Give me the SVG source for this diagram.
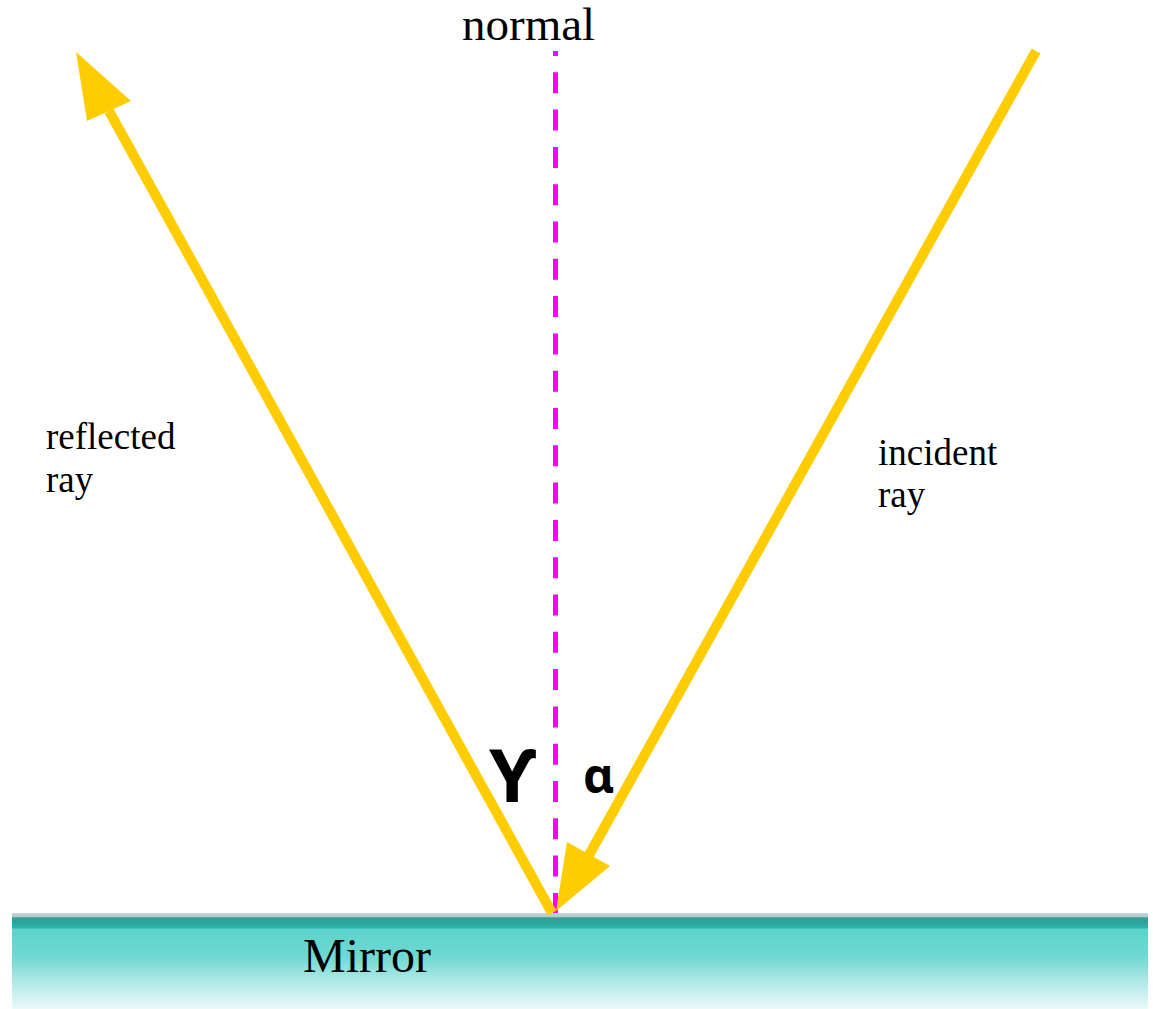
<svg xmlns="http://www.w3.org/2000/svg" width="1153" height="1009" viewBox="0 0 1153 1009">
  <defs>
    <linearGradient id="mirrorGrad" x1="0" y1="0" x2="0" y2="1">
      <stop offset="0" stop-color="#c4d4d4"/>
      <stop offset="0.04" stop-color="#b0cccb"/>
      <stop offset="0.05" stop-color="#3a9c96"/>
      <stop offset="0.10" stop-color="#2aa59e"/>
      <stop offset="0.15" stop-color="#2db3ab"/>
      <stop offset="0.17" stop-color="#5cd3cc"/>
      <stop offset="0.45" stop-color="#6fd8d2"/>
      <stop offset="0.67" stop-color="#a4e6e2"/>
      <stop offset="1" stop-color="#ecf9f9"/>
    </linearGradient>
  </defs>
  <style>
    .ray { stroke: #ffcc00; stroke-width: 10; fill: none; }
    .head { fill: #ffcc00; stroke: none; }
    .normal { stroke: #ff00ff; stroke-width: 5; stroke-dasharray: 21 16.3; fill: none; }
    .serif { font-family: "Liberation Serif", "Times New Roman", serif; fill: #000; }
    .greek { font-family: "Noto Sans", "DejaVu Sans", sans-serif; font-weight: bold; fill: #000; }
  </style>
  <rect width="1153" height="1009" fill="#ffffff"/>
  <g id="mirror">
    <rect x="12" y="913" width="1136" height="96" fill="url(#mirrorGrad)"/>
    <text class="serif" x="303" y="972" font-size="48">Mirror</text>
  </g>
  <g id="connectors">
    <line class="normal" x1="555.5" y1="51" x2="555.5" y2="913" stroke-dashoffset="16"/>
    <line class="ray" x1="552" y1="913" x2="109" y2="111"/>
    <polygon class="head" points="76,52 87,121 131,101"/>
    <line class="ray" x1="1036" y1="51" x2="589" y2="855"/>
    <polygon class="head" points="556,911 567,842 610,866"/>
  </g>
  <g id="labels">
    <text class="serif" x="462" y="40" font-size="47">normal</text>
    <text class="serif" x="46" y="449" font-size="37">reflected</text>
    <text class="serif" x="46" y="492" font-size="37">ray</text>
    <text class="serif" x="878" y="465" font-size="37">incident</text>
    <text class="serif" x="878" y="507" font-size="37">ray</text>
    <text class="greek" x="489" y="802" font-size="74">ϒ</text>
    <text class="greek" x="583" y="793" font-size="48">α</text>
  </g>
</svg>
